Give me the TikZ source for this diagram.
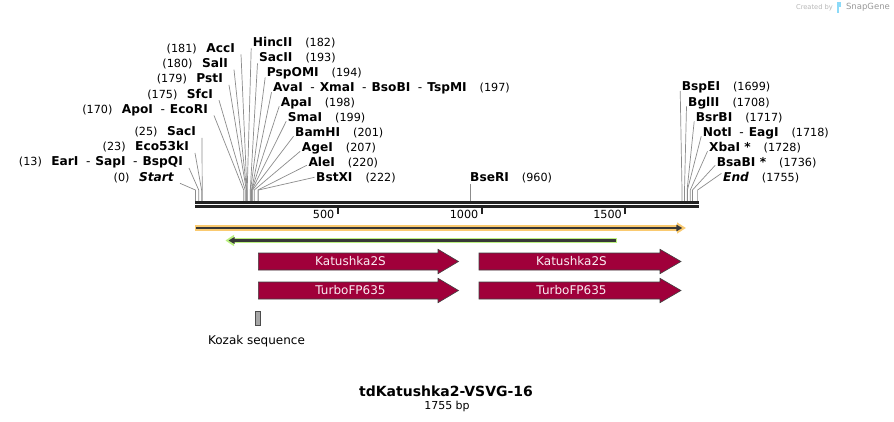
\documentclass[tikz,border=0pt]{standalone}
\usepackage{fontspec}
\setmainfont{DejaVu Sans}
\usetikzlibrary{arrows.meta}
\definecolor{feat}{RGB}{160,0,58}
\definecolor{feattxt}{RGB}{250,236,242}
\definecolor{orglow}{RGB}{250,202,112}
\definecolor{grglow}{RGB}{186,240,128}
\definecolor{lblline}{RGB}{140,140,140}
\definecolor{mapline}{RGB}{34,34,34}
\definecolor{darkarr}{RGB}{55,55,55}
\newcommand\bpn[1]{{\mdseries\fontsize{11.2}{13}\selectfont(#1)}}
\newcommand\dsh{\hspace{7.5pt}{\mdseries -}\hspace{5pt}}
\newcommand\gapL{\hspace{9.5pt}}
\newcommand\gapR{\hspace{13pt}}
% left-side label: name, site x, label right edge, label centre y, text
\newcommand\siteL[5]{%
  \coordinate (s#1) at (#2,201);
  \node[lblL] (n#1) at (#3,#4+4.3) {#5};
  \draw[conn] ([shift={(6,2)}]n#1.base east) -- ([yshift=11pt]s#1) -- (s#1);}
% right-side label: name, site x, label left edge, label centre y, offset, text
\newcommand\siteR[6]{%
  \coordinate (s#1) at (#2,201);
  \node[lblR] (n#1) at (#3,#4+4.3) {#6};
  \draw[conn] ([shift={(-1.5,#5)}]n#1.base west) -- ([yshift=11pt]s#1) -- (s#1);}
\newcommand\featarr[5]{% name, x start, x head, x tip, y mid
  \draw[featbox] (#2,#5-8.5) -- (#3,#5-8.5) -- (#3,#5-12.2) -- (#4,#5)
    -- (#3,#5+12.2) -- (#3,#5+8.5) -- (#2,#5+8.5) -- cycle;}
\begin{document}
\begin{tikzpicture}[x=1pt,y=-1pt,
  lbl/.style={font=\fontsize{12.2}{14}\selectfont\bfseries, inner sep=0pt},
  lblL/.style={lbl, anchor=base east},
  lblR/.style={lbl, anchor=base west},
  conn/.style={draw=lblline, line width=0.7pt},
  featbox/.style={fill=feat, draw=black!75, line width=0.6pt},
  feattext/.style={text=feattxt, font=\fontsize{12}{14}\selectfont, inner sep=0pt},
  ticklbl/.style={font=\fontsize{11.2}{13}\selectfont, inner sep=0pt, anchor=east}]
\useasboundingbox (0,0) rectangle (894,422);
\fill[white] (0,0) rectangle (894,422);

% credit
\node[text=black!28, font=\fontsize{6.7}{8}\selectfont, inner sep=0pt] (credit) at (814.5,7.5) {Created by};
\fill[cyan!45] (836.5,2) rectangle (841,7.5);
\fill[cyan!45] (836.5,7.5) rectangle (838.8,13);
\node[text=black!40, font=\fontsize{8.5}{10}\selectfont, inner sep=0pt] (snap) at (868,7.5) {SnapGene};

% left cluster labels
\siteL{accI}{246.9}{235}{48}{\bpn{181}\gapL AccI}
\siteL{salI}{246.6}{228}{63.3}{\bpn{180}\gapL SalI}
\siteL{pstI}{246.3}{223}{78.6}{\bpn{179}\gapL PstI}
\siteL{sfcI}{245.2}{213}{93.9}{\bpn{175}\gapL SfcI}
\siteL{apoI}{243.7}{208}{109.2}{\bpn{170}\gapL ApoI\dsh EcoRI}
\siteL{sacI}{202.2}{196}{131.7}{\bpn{25}\gapL SacI}
\siteL{eco}{201.6}{189}{146.7}{\bpn{23}\gapL Eco53kI}
\siteL{earI}{198.7}{183}{161.7}{\bpn{13}\gapL EarI\dsh SapI\dsh BspQI}
\siteL{start}{195.4}{174}{177}{\bpn{0}\gapL\itshape Start}

% right-hand labels of left cluster
\siteR{hinc}{247.2}{252.7}{42}{2}{HincII\gapR\bpn{182}}
\siteR{sacII}{250.3}{259}{57}{2}{SacII\gapR\bpn{193}}
\siteR{psp}{250.6}{266.7}{72}{1}{PspOMI\gapR\bpn{194}}
\siteR{ava}{251.5}{273}{87}{1}{AvaI\dsh XmaI\dsh BsoBI\dsh TspMI\gapR\bpn{197}}
\siteR{apa}{251.7}{280.7}{102}{0}{ApaI\gapR\bpn{198}}
\siteR{sma}{252}{287.7}{117}{0}{SmaI\gapR\bpn{199}}
\siteR{bam}{252.6}{295}{132}{0}{BamHI\gapR\bpn{201}}
\siteR{age}{254.3}{301.7}{147}{0}{AgeI\gapR\bpn{207}}
\siteR{ale}{258}{308.3}{162}{-1}{AleI\gapR\bpn{220}}
\siteR{bstx}{258.6}{316}{177}{-4}{BstXI\gapR\bpn{222}}

% BseRI
\coordinate (sbse) at (470,201);
\node[lblR] (nbse) at (470,181.3) {BseRI\gapR\bpn{960}};
\draw[conn] (sbse) -- ([yshift=-1.5pt]nbse.south west -| sbse);

% right cluster
\siteR{bspE}{682}{681.7}{86.7}{0}{BspEI\gapR\bpn{1699}}
\siteR{bgl}{684.5}{688}{102}{0}{BglII\gapR\bpn{1708}}
\siteR{bsrB}{687.1}{695.7}{117}{0}{BsrBI\gapR\bpn{1717}}
\siteR{notI}{687.4}{702.7}{132}{0}{NotI\dsh EagI\gapR\bpn{1718}}
\siteR{xba}{690.3}{709}{147}{0}{XbaI *\gapR\bpn{1728}}
\siteR{bsaB}{692.5}{716.7}{162}{-1}{BsaBI *\gapR\bpn{1736}}
\siteR{end}{697.6}{723}{177}{-8}{\itshape End\gapR\upshape\bpn{1755}}

% map double line
\draw[mapline, line width=2.6pt] (195,202.8) -- (698.5,202.8);
\draw[mapline, line width=2.6pt] (195,206.6) -- (698.5,206.6);

% ruler ticks
\draw[mapline, line width=2pt] (337.7,207) -- (337.7,214.3);
\draw[mapline, line width=2pt] (481.5,207) -- (481.5,214.3);
\draw[mapline, line width=2pt] (625,207) -- (625,214.3);
\node[ticklbl] (t500) at (334.5,214) {500};
\node[ticklbl] (t1000) at (478.5,214) {1000};
\node[ticklbl] (t1500) at (622,214) {1500};

% orange forward arrow
\draw[orglow, line width=5.5pt] (195,228) -- (679,228);
\fill[orglow] (677,222.3) -- (685.8,228) -- (677,233.7) -- cycle;
\draw[darkarr, line width=2.2pt, -{Triangle[length=6pt,width=6.5pt]}] (196,228) -- (682.3,228);

% green reverse arrow
\draw[grglow, line width=5.5pt] (617,240.5) -- (232,240.5);
\fill[grglow] (234,234.8) -- (225.5,240.5) -- (234,246.2) -- cycle;
\draw[darkarr, line width=2.2pt, -{Triangle[length=6pt,width=6.5pt]}] (615.5,240.5) -- (228.5,240.5);

% feature arrows
\featarr{k1}{258.3}{438}{458.5}{261.5}
\featarr{k2}{479}{660}{681}{261.5}
\featarr{t1}{258.3}{438}{458.5}{290.5}
\featarr{t2}{479}{660}{681}{290.5}
\node[feattext] (lk1) at (350.5,261) {Katushka2S};
\node[feattext] (lk2) at (571.5,261) {Katushka2S};
\node[feattext] (lt1) at (350.5,290) {TurboFP635};
\node[feattext] (lt2) at (571.5,290) {TurboFP635};

% Kozak sequence
\draw[fill=black!35, draw=black!70, line width=0.6pt] (255.7,311.7) rectangle (259.8,325.5);
\node[font=\fontsize{12}{14}\selectfont, inner sep=0pt] (kozak) at (256.5,341) {Kozak sequence};

% title
\node[font=\fontsize{14}{16}\selectfont\bfseries, inner sep=0pt] (title) at (446,391.5) {tdKatushka2-VSVG-16};
\node[font=\fontsize{11}{13}\selectfont, inner sep=0pt] (bp) at (447,406.5) {1755 bp};
\end{tikzpicture}
\end{document}
